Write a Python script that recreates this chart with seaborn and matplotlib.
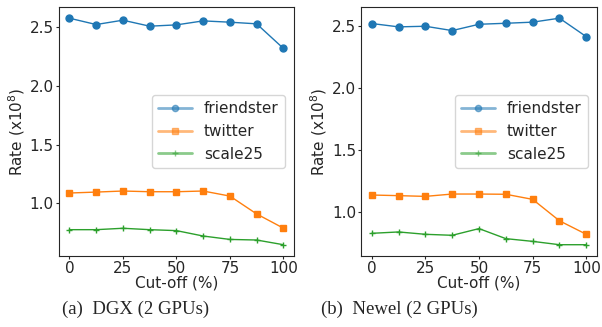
import pandas as pd
import matplotlib
matplotlib.use("Agg")
import matplotlib.pyplot as plt
import seaborn as sns

cutoff = [0, 12.5, 25, 37.5, 50, 62.5, 75, 87.5, 100]
graphs = ["friendster", "twitter", "scale25"]

# DGX (2 GPUs)
dgx_friendster = [2.577, 2.523, 2.560, 2.509, 2.520, 2.554, 2.543, 2.529, 2.320]
dgx_twitter = [1.089, 1.097, 1.106, 1.100, 1.100, 1.106, 1.063, 0.911, 0.790]
dgx_scale25 = [0.777, 0.777, 0.789, 0.777, 0.769, 0.723, 0.694, 0.689, 0.649]

# Newel (2 GPUs)
newel_friendster = [2.522, 2.495, 2.500, 2.465, 2.516, 2.524, 2.533, 2.565, 2.416]
newel_twitter = [1.138, 1.133, 1.127, 1.146, 1.146, 1.144, 1.103, 0.930, 0.821]
newel_scale25 = [0.829, 0.840, 0.821, 0.813, 0.867, 0.786, 0.764, 0.737, 0.737]

captions = ["(a)  DGX (2 GPUs)", "(b)  Newel (2 GPUs)"]
panels = [[dgx_friendster, dgx_twitter, dgx_scale25],
          [newel_friendster, newel_twitter, newel_scale25]]

sns.set_theme(style="ticks")
plt.rcParams["axes.edgecolor"] = "0.15"
plt.rcParams["font.family"] = ["DejaVu Sans"]

fig = plt.figure(figsize=(6.02, 3.27), dpi=100)
positions = [[0.0975, 0.217, 0.391, 0.762], [0.5997, 0.217, 0.392, 0.762]]
caption_x = [0.226, 0.663]

colors = sns.color_palette("tab10", 3)
markers = ["o", "s", "+"]
msizes = [5, 5, 5]

for i, series in enumerate(panels):
    ax = fig.add_axes(positions[i])
    for name, vals, c, m, ms in zip(graphs, series, colors, markers, msizes):
        df = pd.DataFrame({"cutoff": cutoff, "rate": vals})
        sns.lineplot(data=df, x="cutoff", y="rate", ax=ax, color=c, marker=m,
                     markersize=ms, markeredgewidth=1, markeredgecolor=c,
                     linewidth=1, label=name)
    ax.set_xticks([0, 25, 50, 75, 100])
    ax.set_yticks([1.0, 1.5, 2.0, 2.5])
    ax.tick_params(labelsize=11, length=2, width=0.8, pad=1.5)
    ax.set_xlabel("Cut-off (%)", fontsize=11, labelpad=0)
    ax.set_ylabel("Rate (x$10^8$)", fontsize=11, labelpad=2)
    for spine in ax.spines.values():
        spine.set_linewidth(0.8)
    leg = ax.legend(title=None, loc="center right", fontsize=11, frameon=True,
                    handlelength=2.2, borderaxespad=0.6)
    for h in leg.get_lines():
        h.set_alpha(0.55)
        h.set_linewidth(2)
        h.set_markersize(4.5)
    fig.text(caption_x[i], 0.055, captions[i], ha="center", va="center",
             fontsize=13.5, family=["Liberation Serif", "DejaVu Serif"])

fig.savefig("out.png", dpi=100)
